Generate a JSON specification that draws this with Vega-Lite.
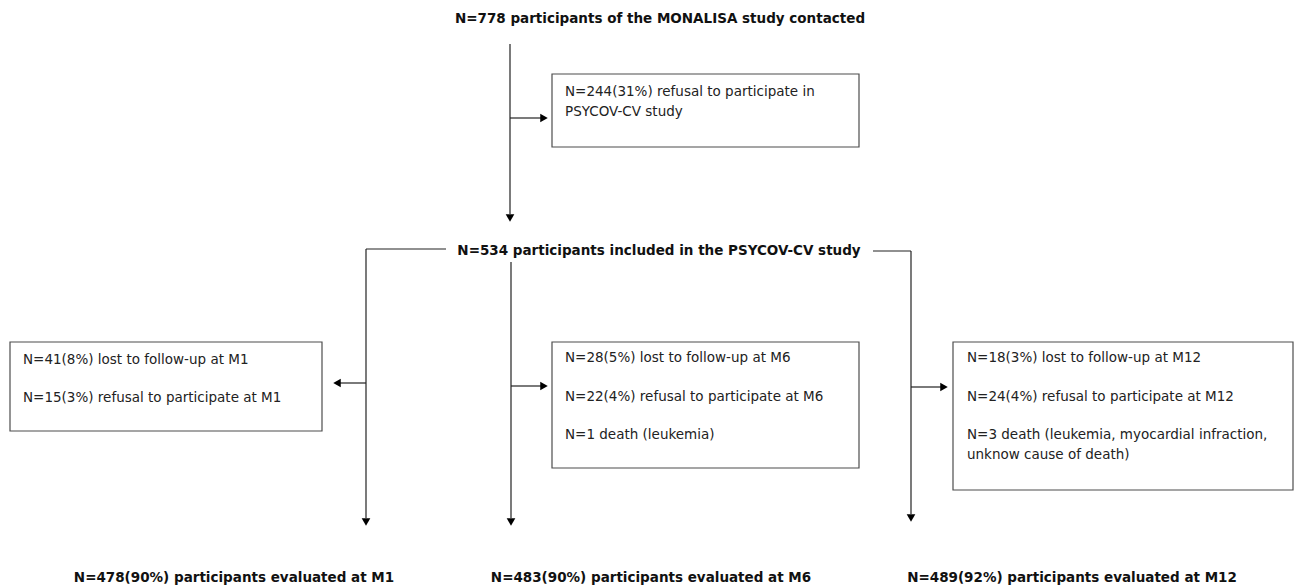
{
  "$schema": "https://vega.github.io/schema/vega-lite/v6.json",
  "width": 1294,
  "height": 588,
  "padding": 0,
  "autosize": {"type": "fit", "contains": "padding"},
  "background": "white",
  "config": {"view": {"stroke": null}},
  "datasets": {
    "boxes": [
      {"id": "refusal", "x": 552, "x2": 859, "y": 74, "y2": 147},
      {"id": "m1", "x": 10, "x2": 322, "y": 342, "y2": 431},
      {"id": "m6", "x": 552, "x2": 859, "y": 342, "y2": 468},
      {"id": "m12", "x": 953, "x2": 1293, "y": 342, "y2": 490}
    ],
    "lines": [
      {"x": 510, "y": 44, "x2": 510, "y2": 214},
      {"x": 510, "y": 118, "x2": 541, "y2": 118},
      {"x": 366, "y": 249, "x2": 446, "y2": 249},
      {"x": 366, "y": 249, "x2": 366, "y2": 518},
      {"x": 340, "y": 383, "x2": 366, "y2": 383},
      {"x": 511, "y": 262, "x2": 511, "y2": 518},
      {"x": 511, "y": 386, "x2": 541, "y2": 386},
      {"x": 873, "y": 251, "x2": 911, "y2": 251},
      {"x": 911, "y": 251, "x2": 911, "y2": 514},
      {"x": 911, "y": 387, "x2": 941, "y2": 387}
    ],
    "arrows": [
      {"x": 510, "y": 218, "dir": "triangle-down"},
      {"x": 544, "y": 118, "dir": "triangle-right"},
      {"x": 337, "y": 383, "dir": "triangle-left"},
      {"x": 366, "y": 522, "dir": "triangle-down"},
      {"x": 544, "y": 386, "dir": "triangle-right"},
      {"x": 511, "y": 522, "dir": "triangle-down"},
      {"x": 944, "y": 387, "dir": "triangle-right"},
      {"x": 911, "y": 518, "dir": "triangle-down"}
    ],
    "notes": [
      {"x": 565, "y": 92, "label": "N=244(31%) refusal to participate in"},
      {"x": 565, "y": 112, "label": "PSYCOV-CV study"},
      {"x": 23, "y": 360, "label": "N=41(8%) lost to follow-up at M1"},
      {"x": 23, "y": 398, "label": "N=15(3%) refusal to participate at M1"},
      {"x": 565, "y": 358, "label": "N=28(5%) lost to follow-up at M6"},
      {"x": 565, "y": 397, "label": "N=22(4%) refusal to participate at M6"},
      {"x": 565, "y": 435, "label": "N=1 death (leukemia)"},
      {"x": 967, "y": 358, "label": "N=18(3%) lost to follow-up at M12"},
      {"x": 967, "y": 397, "label": "N=24(4%) refusal to participate at M12"},
      {"x": 967, "y": 435, "label": "N=3 death (leukemia, myocardial infraction,"},
      {"x": 967, "y": 455, "label": "unknow cause of death)"}
    ],
    "heads": [
      {"x": 660, "y": 19, "label": "N=778 participants of the MONALISA study contacted"},
      {"x": 659, "y": 251, "label": "N=534 participants included in the PSYCOV-CV study"},
      {"x": 234, "y": 578, "label": "N=478(90%) participants evaluated at M1"},
      {"x": 651, "y": 578, "label": "N=483(90%) participants evaluated at M6"},
      {"x": 1072, "y": 578, "label": "N=489(92%) participants evaluated at M12"}
    ]
  },
  "encoding": {
    "x": {"field": "x", "type": "quantitative", "scale": {"domain": [0, 1294], "nice": false, "zero": false}, "axis": null},
    "y": {"field": "y", "type": "quantitative", "scale": {"domain": [0, 588], "nice": false, "zero": false, "reverse": true}, "axis": null}
  },
  "layer": [
    {
      "data": {"name": "boxes"},
      "mark": {"type": "rect", "fill": "white", "stroke": "#4d4d4d", "strokeWidth": 1.2},
      "encoding": {"x2": {"field": "x2"}, "y2": {"field": "y2"}}
    },
    {
      "data": {"name": "lines"},
      "mark": {"type": "rule", "color": "#222222", "strokeWidth": 1.2},
      "encoding": {"x2": {"field": "x2"}, "y2": {"field": "y2"}}
    },
    {
      "data": {"name": "arrows"},
      "mark": {"type": "point", "filled": true, "color": "#000000", "size": 75, "opacity": 1},
      "encoding": {"shape": {"field": "dir", "type": "nominal", "scale": null}}
    },
    {
      "data": {"name": "notes"},
      "mark": {"type": "text", "align": "left", "baseline": "middle", "font": "DejaVu Sans", "fontSize": 13.5, "color": "#222222"},
      "encoding": {"text": {"field": "label"}}
    },
    {
      "data": {"name": "heads"},
      "mark": {"type": "text", "align": "center", "baseline": "middle", "font": "DejaVu Sans", "fontWeight": "bold", "fontSize": 13.5, "color": "#111111"},
      "encoding": {"text": {"field": "label"}}
    }
  ]
}
